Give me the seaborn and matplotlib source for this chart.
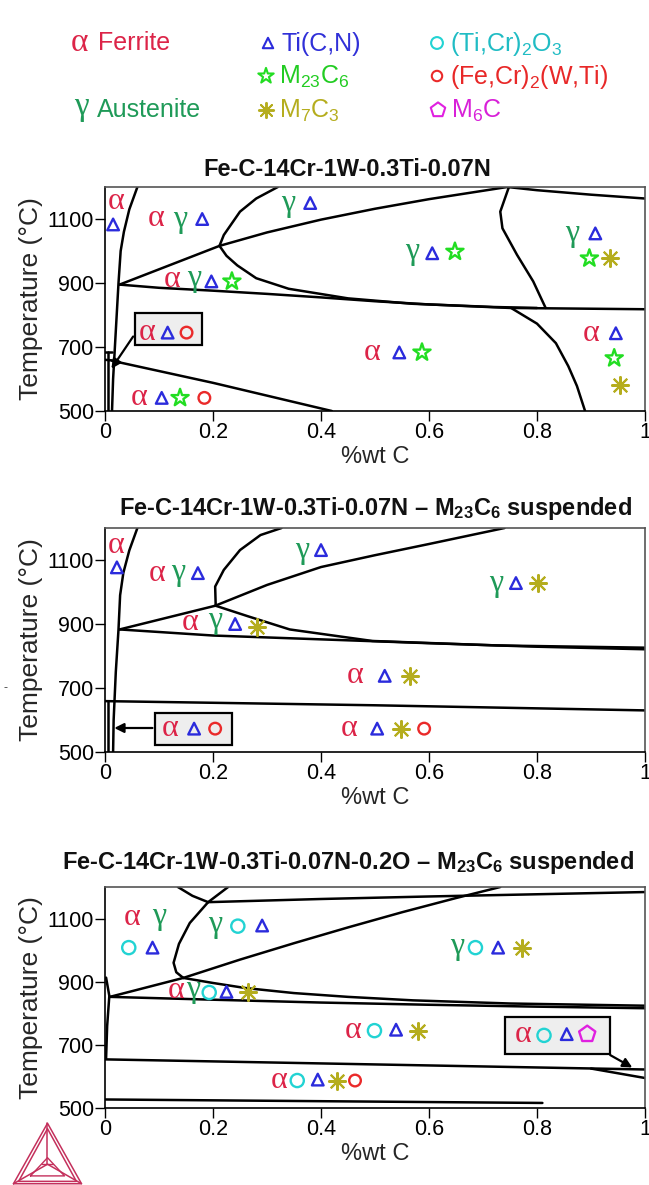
import matplotlib
matplotlib.use("Agg")
import matplotlib.pyplot as plt
from matplotlib.patches import Rectangle
import seaborn as sns

sns.set_theme(style="white")
plt.rcParams["font.family"] = ["Liberation Sans", "DejaVu Sans"]
plt.rcParams["mathtext.fontset"] = "custom"
plt.rcParams["mathtext.rm"] = "Liberation Sans"
plt.rcParams["mathtext.bf"] = "Liberation Sans:bold"
plt.rcParams["mathtext.default"] = "regular"

# ---- colours / symbols ----
ALPHA_COL = "#dc2448"
GAMMA_COL = "#1f9a58"
SYMBOLS = {
    "tri": ("^", "#2b2bdc", 70),
    "star": ("*", "#22dd22", 170),
    "ast": ((8, 2, 0), "#b5ad1e", 150),
    "oc": ("o", "#22d3d3", 90),
    "or": ("o", "#ea2a2a", 70),
    "pent": ("p", "#e020e0", 150),
}

# ---- legend ----
phase_names = ["Ferrite", "Austenite"]
particle_keys = ["tri", "star", "ast", "oc", "or", "pent"]
particle_names = ["Ti(C,N)", "M$_{23}$C$_6$", "M$_7$C$_3$",
                  "(Ti,Cr)$_2$O$_3$", "(Fe,Cr)$_2$(W,Ti)", "M$_6$C"]
particle_text_cols = ["#3030d8", "#22cc22", "#b5ad1e", "#20bcc4", "#e82828", "#d820d8"]

titles = ["Fe-C-14Cr-1W-0.3Ti-0.07N",
          "Fe-C-14Cr-1W-0.3Ti-0.07N – M$_{\\mathbf{23}}$C$_{\\mathbf{6}}$ suspended",
          "Fe-C-14Cr-1W-0.3Ti-0.07N-0.2O – M$_{\\mathbf{23}}$C$_{\\mathbf{6}}$ suspended"]

# ---- panel 1 boundaries (wt% C, T in C) ----
p1_alpha_x = [0.060, 0.045, 0.035, 0.029, 0.025, 0.020, 0.015, 0.013]
p1_alpha_t = [1200, 1130, 1060, 1000, 900, 750, 600, 500]
p1_thin_x = [0.005, 0.005]
p1_thin_t = [500, 683]
p1_stub1_x = [0.0, 0.013]
p1_stub1_t = [683, 683]
p1_stub2_x = [0.0, 0.013]
p1_stub2_t = [660, 658]
p1_desc_x = [0.013, 0.2, 0.42]
p1_desc_t = [657, 588, 500]
p1_agtop_x = [0.027, 0.212]
p1_agtop_t = [895, 1016]
p1_gtop_x = [0.212, 0.3, 0.4, 0.5, 0.6, 0.745]
p1_gtop_t = [1016, 1058, 1098, 1132, 1162, 1200]
p1_gleft_x = [0.212, 0.22, 0.25, 0.28, 0.32]
p1_gleft_t = [1016, 1050, 1123, 1164, 1200]
p1_nose_x = [0.212, 0.225, 0.245, 0.28, 0.34, 0.45, 0.57, 0.72, 0.80]
p1_nose_t = [1016, 985, 955, 915, 882, 852, 835, 825, 822]
p1_low_x = [0.027, 0.1, 0.2, 0.3, 0.4, 0.5, 0.6, 0.75, 1.0]
p1_low_t = [895, 885, 876, 866, 855, 843, 833, 822, 818]
p1_rc_x = [0.748, 0.732, 0.736, 0.763, 0.793, 0.816]
p1_rc_t = [1200, 1123, 1071, 988, 905, 822]
p1_tr_x = [0.745, 0.8, 0.9, 1.0]
p1_tr_t = [1200, 1190, 1176, 1164]
p1_lr_x = [0.752, 0.80, 0.835, 0.858, 0.874, 0.889]
p1_lr_t = [822, 773, 712, 640, 578, 500]

p1_lines = [(p1_alpha_x, p1_alpha_t), (p1_thin_x, p1_thin_t), (p1_stub1_x, p1_stub1_t),
            (p1_stub2_x, p1_stub2_t), (p1_desc_x, p1_desc_t), (p1_agtop_x, p1_agtop_t),
            (p1_gtop_x, p1_gtop_t), (p1_gleft_x, p1_gleft_t), (p1_nose_x, p1_nose_t),
            (p1_low_x, p1_low_t), (p1_rc_x, p1_rc_t), (p1_tr_x, p1_tr_t), (p1_lr_x, p1_lr_t)]

p1_labels = [("a", 0.02, 1154), ("tri", 0.015, 1083),
             ("a", 0.095, 1100), ("g", 0.14, 1100), ("tri", 0.18, 1100),
             ("g", 0.34, 1150), ("tri", 0.38, 1150),
             ("a", 0.124, 910), ("g", 0.166, 913), ("tri", 0.197, 905), ("star", 0.235, 905),
             ("g", 0.568, 998), ("tri", 0.606, 993), ("star", 0.648, 998),
             ("g", 0.866, 1055), ("tri", 0.908, 1055), ("star", 0.897, 977), ("ast", 0.935, 977),
             ("a", 0.495, 683), ("tri", 0.545, 683), ("star", 0.587, 683),
             ("a", 0.90, 743), ("tri", 0.946, 743), ("star", 0.943, 665), ("ast", 0.954, 580),
             ("a", 0.063, 541), ("tri", 0.105, 541), ("star", 0.139, 541), ("or", 0.184, 541),
             ("a", 0.078, 745), ("tri", 0.116, 745), ("or", 0.151, 745)]
p1_box = (0.055, 705, 0.124, 100)
p1_arrow = ((0.055, 740), (0.009, 625))

# ---- panel 2 ----
p2_alpha_x = [0.060, 0.045, 0.034, 0.028, 0.025, 0.020, 0.016, 0.015]
p2_alpha_t = [1200, 1130, 1060, 990, 883, 750, 600, 500]
p2_thin_x = [0.006, 0.006]
p2_thin_t = [500, 659]
p2_hz_x = [0.0, 0.5, 1.0]
p2_hz_t = [659, 646, 630]
p2_agtop_x = [0.027, 0.204]
p2_agtop_t = [883, 957]
p2_gtop_x = [0.204, 0.3, 0.4, 0.5, 0.6, 0.74]
p2_gtop_t = [957, 1022, 1078, 1115, 1150, 1200]
p2_gleft_x = [0.205, 0.204, 0.22, 0.25, 0.288, 0.327]
p2_gleft_t = [957, 1017, 1069, 1131, 1178, 1200]
p2_nose_x = [0.205, 0.265, 0.342, 0.495, 0.725, 1.0]
p2_nose_t = [957, 924, 883, 847, 833, 826]
p2_low_x = [0.027, 0.2, 0.4, 0.6, 0.8, 1.0]
p2_low_t = [883, 864, 852, 840, 829, 821]

p2_lines = [(p2_alpha_x, p2_alpha_t), (p2_thin_x, p2_thin_t), (p2_hz_x, p2_hz_t),
            (p2_agtop_x, p2_agtop_t), (p2_gtop_x, p2_gtop_t), (p2_gleft_x, p2_gleft_t),
            (p2_nose_x, p2_nose_t), (p2_low_x, p2_low_t)]

p2_labels = [("a", 0.02, 1146), ("tri", 0.022, 1077),
             ("a", 0.097, 1059), ("g", 0.135, 1062), ("tri", 0.172, 1059),
             ("g", 0.365, 1131), ("tri", 0.40, 1131),
             ("g", 0.725, 1028), ("tri", 0.761, 1028), ("ast", 0.801, 1028),
             ("a", 0.158, 904), ("g", 0.204, 912), ("tri", 0.241, 900), ("ast", 0.281, 890),
             ("a", 0.464, 738), ("tri", 0.518, 738), ("ast", 0.564, 738),
             ("a", 0.453, 573), ("tri", 0.504, 573), ("ast", 0.549, 573), ("or", 0.591, 573),
             ("a", 0.12, 573), ("tri", 0.165, 573), ("or", 0.204, 573)]
p2_box = (0.093, 521, 0.142, 101)
p2_arrow = ((0.093, 575), (0.012, 575))

# ---- panel 3 ----
p3_a_x = [0.135, 0.162, 0.191]
p3_a_t = [1200, 1172, 1152]
p3_top_x = [0.191, 0.4, 0.6, 0.8, 1.0]
p3_top_t = [1152, 1162, 1170, 1177, 1184]
p3_b_x = [0.228, 0.191, 0.157, 0.137, 0.127, 0.132, 0.145]
p3_b_t = [1200, 1152, 1086, 1020, 960, 930, 912]
p3_up_x = [0.145, 0.25, 0.35, 0.45, 0.55, 0.65, 0.732]
p3_up_t = [912, 970, 1022, 1072, 1120, 1165, 1200]
p3_nl_x = [0.145, 0.009]
p3_nl_t = [912, 852]
p3_nose_x = [0.145, 0.2, 0.26, 0.35, 0.45, 0.57, 0.75, 1.0]
p3_nose_t = [912, 896, 880, 864, 852, 841, 831, 824]
p3_low_x = [0.009, 0.2, 0.4, 0.6, 0.8, 1.0]
p3_low_t = [852, 843, 834, 827, 821, 816]
p3_left_x = [0.002, 0.008, 0.004, 0.002]
p3_left_t = [913, 855, 760, 656]
p3_hz_x = [0.0, 0.5, 1.0]
p3_hz_t = [654, 638, 622]
p3_dr_x = [0.90, 1.0]
p3_dr_t = [625, 595]
p3_bot_x = [0.0, 0.81]
p3_bot_t = [527, 516]

p3_lines = [(p3_a_x, p3_a_t), (p3_top_x, p3_top_t), (p3_b_x, p3_b_t), (p3_up_x, p3_up_t),
            (p3_nl_x, p3_nl_t), (p3_nose_x, p3_nose_t), (p3_low_x, p3_low_t),
            (p3_left_x, p3_left_t), (p3_hz_x, p3_hz_t), (p3_dr_x, p3_dr_t), (p3_bot_x, p3_bot_t)]

p3_labels = [("a", 0.051, 1102), ("g", 0.10, 1108),
             ("oc", 0.044, 1008), ("tri", 0.088, 1008),
             ("g", 0.204, 1081), ("oc", 0.246, 1076), ("tri", 0.291, 1078),
             ("g", 0.652, 1013), ("oc", 0.686, 1008), ("tri", 0.728, 1008), ("ast", 0.773, 1008),
             ("a", 0.132, 871), ("g", 0.164, 876), ("oc", 0.193, 866), ("tri", 0.225, 868), ("ast", 0.264, 866),
             ("a", 0.46, 745), ("oc", 0.499, 745), ("tri", 0.539, 748), ("ast", 0.579, 745),
             ("a", 0.323, 587), ("oc", 0.356, 587), ("tri", 0.394, 590), ("ast", 0.43, 585), ("or", 0.463, 587),
             ("a", 0.774, 734), ("oc", 0.813, 730), ("tri", 0.855, 734), ("pent", 0.893, 734)]
p3_box = (0.74, 672, 0.195, 117)
p3_arrow = ((0.931, 672), (0.981, 624))

x_ticks = [0, 0.2, 0.4, 0.6, 0.8, 1.0]
x_ticklabels = ["0", "0.2", "0.4", "0.6", "0.8", "1"]
y_ticks = [500, 700, 900, 1100]


def put_symbols(ax, labels, greek_size=23):
    for kind, x, t in labels:
        if kind in ("a", "g"):
            ax.text(x, t, "α" if kind == "a" else "γ", color=ALPHA_COL if kind == "a" else GAMMA_COL,
                    fontsize=greek_size, family=["Liberation Serif", "DejaVu Serif"],
                    ha="center", va="center", zorder=5)
    for key, (mk, col, size) in SYMBOLS.items():
        xs = [x for k, x, t in labels if k == key]
        ts = [t for k, x, t in labels if k == key]
        if not xs:
            continue
        if key == "ast":
            ax.scatter(xs, ts, marker=mk, s=size, color=col, linewidths=1.5, zorder=5)
        else:
            ax.scatter(xs, ts, marker=mk, s=size, facecolors="none", edgecolors=col,
                       linewidths=1.7, zorder=5)


def draw_panel(ax, lines, labels, box, arrow):
    for xs, ts in lines:
        sns.lineplot(x=xs, y=ts, sort=False, estimator=None, color="black", lw=1.8, ax=ax)
    ax.add_patch(Rectangle((box[0], box[1]), box[2], box[3], facecolor="#eeeeee",
                           edgecolor="black", lw=1.6, zorder=4))
    ax.annotate("", xy=arrow[1], xytext=arrow[0],
                arrowprops=dict(arrowstyle="-|>", color="black", lw=1.6, mutation_scale=14),
                zorder=6)
    put_symbols(ax, labels)
    ax.set_xlim(0, 1)
    ax.set_ylim(500, 1200)
    ax.set_xticks(x_ticks)
    ax.set_xticklabels(x_ticklabels)
    ax.set_yticks(y_ticks)
    ax.tick_params(bottom=True, left=True, direction="out", length=7, width=1,
                   labelsize=15.5, colors="black", pad=1)
    for name, sp in ax.spines.items():
        sp.set_color("black" if name in ("left", "bottom") else "#555555")
        sp.set_linewidth(1.2)
    ax.set_xlabel("%wt C", fontsize=17, labelpad=2)
    ax.set_ylabel("Temperature (°C)", fontsize=19, labelpad=3)


W, H = 649, 1185
fig = plt.figure(figsize=(W / 100, H / 100), dpi=100)

# background axes in pixel units (legend, titles, logo)
bg = fig.add_axes([0, 0, 1, 1])
bg.set_xlim(0, W)
bg.set_ylim(H, 0)
bg.axis("off")

# legend
bg.text(79, 43, "α", color=ALPHA_COL, fontsize=24, family=["Liberation Serif"], ha="center", va="center")
bg.text(98, 43, phase_names[0], color=ALPHA_COL, fontsize=18, ha="left", va="center")
bg.text(81, 107, "γ", color=GAMMA_COL, fontsize=24, family=["Liberation Serif"], ha="center", va="center")
bg.text(97, 110, phase_names[1], color=GAMMA_COL, fontsize=18, ha="left", va="center")
leg_pos = [(268, 43), (266, 76), (266, 110), (437, 43), (437, 76), (438, 110)]
for key, name, tcol, (px, py) in zip(particle_keys, particle_names, particle_text_cols, leg_pos):
    mk, col, size = SYMBOLS[key]
    if key == "ast":
        bg.scatter([px], [py], marker=mk, s=size * 0.8, color=col, linewidths=1.4)
    else:
        bg.scatter([px], [py], marker=mk, s=size * 0.8, facecolors="none", edgecolors=col, linewidths=1.5)
    bg.text(px + 13, py + 1, name, color=tcol, fontsize=18, ha="left", va="center")

# titles
title_pos = [(347, 170), (375, 509), (348, 862)]
for t, (px, py) in zip(titles, title_pos):
    bg.text(px, py, t, fontsize=17, weight="bold", ha="center", va="center", color="#111111")
bg.text(5, 688, "-", fontsize=9, color="#444444", ha="center", va="center")

# logo (Thermo-Calc style triangle)
logo_col = "#c4305c"
ax_logo = fig.add_axes([5 / W, 0, 85 / W, 65 / H])
ax_logo.set_xlim(0, 1)
ax_logo.set_ylim(0, 1)
ax_logo.axis("off")
for s in [0.0, 0.06]:
    ax_logo.plot([0.1 + s, 0.5, 0.9 - s, 0.1 + s], [0.02 + s * 0.6, 0.95 - s * 1.4, 0.02 + s * 0.6, 0.02 + s * 0.6],
                 color=logo_col, lw=1.1)
ax_logo.plot([0.5, 0.5], [0.95, 0.32], color=logo_col, lw=1.1)
ax_logo.plot([0.1, 0.5, 0.9], [0.02, 0.32, 0.02], color=logo_col, lw=1.1)
ax_logo.plot([0.3, 0.5, 0.7, 0.3], [0.14, 0.42, 0.14, 0.14], color=logo_col, lw=1.0)
ax_logo.plot([0.44, 0.56], [0.32, 0.32], color=logo_col, lw=1.0)

# panels
left, width = 105 / W, 540 / W
panels = [(187, 411, p1_lines, p1_labels, p1_box, p1_arrow),
          (528, 752, p2_lines, p2_labels, p2_box, p2_arrow),
          (887, 1108, p3_lines, p3_labels, p3_box, p3_arrow)]
for top, bot, lines, labels, box, arrow in panels:
    ax = fig.add_axes([left, 1 - bot / H, width, (bot - top) / H])
    draw_panel(ax, lines, labels, box, arrow)

fig.savefig("out.png", dpi=100)
